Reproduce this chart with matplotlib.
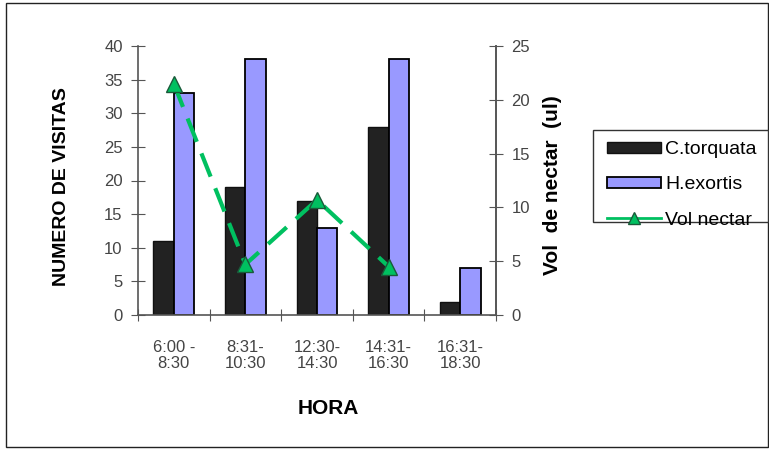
import numpy as np
import matplotlib
matplotlib.use("Agg")
import matplotlib.pyplot as plt
from matplotlib.patches import Rectangle
from matplotlib.lines import Line2D

plt.rcParams['font.family'] = ['Liberation Sans', 'DejaVu Sans']

horas = ["6:00 -\n8:30", "8:31-\n10:30", "12:30-\n14:30", "14:31-\n16:30", "16:31-\n18:30"]
c_torquata = [11, 19, 17, 28, 2]
h_exortis = [33, 38, 13, 38, 7]
vol_nectar = [21.5, 4.7, 10.7, 4.5]

W, H = 769, 450
fig = plt.figure(figsize=(W / 100, H / 100), dpi=100)


def fx(px):
    return px / W


def fy(py):
    return 1 - py / H


# outer frame
fig.patches.append(Rectangle((fx(6), fy(447)), (W - 7) / W, 444 / H,
                             transform=fig.transFigure, fill=False,
                             edgecolor='#222222', linewidth=1.0))

left, right, top, bottom = 138, 496, 46, 315
ax = fig.add_axes([fx(left), fy(bottom), (right - left) / W, (bottom - top) / H])

tick_col = '#555555'
lab_col = '#444444'

x = np.arange(len(horas))
bw = 0.286
ax.bar(x - bw / 2, c_torquata, bw, color='#222222', edgecolor='#111111', linewidth=1.0,
       label='C.torquata', zorder=2)
ax.bar(x + bw / 2, h_exortis, bw, color='#9999FF', edgecolor='black', linewidth=1.3,
       label='H.exortis', zorder=2)

ax.set_xlim(-0.5, len(horas) - 0.5)
ax.set_ylim(0, 40)
ax.set_yticks(range(0, 41, 5))
ax.set_xticks(np.arange(-0.5, len(horas), 1.0))
ax.set_xticklabels([])
ax.set_xticks(x, minor=True)
ax.set_xticklabels(horas, minor=True, fontsize=12, color=lab_col, linespacing=1.1)
ax.tick_params(axis='x', which='minor', length=0, pad=18)
ax.tick_params(axis='x', which='major', direction='inout', length=8, color=tick_col)
ax.tick_params(axis='y', direction='inout', length=10, color=tick_col, labelsize=12,
               labelcolor=lab_col, pad=6)
ax.spines['top'].set_visible(False)
for s in ['left', 'right', 'bottom']:
    ax.spines[s].set_color(tick_col)
    ax.spines[s].set_linewidth(1.2)

ax2 = ax.twinx()
ax2.set_ylim(0, 25)
ax2.set_yticks(range(0, 26, 5))
ax2.plot(x[:len(vol_nectar)], vol_nectar, color='#00C060', linewidth=3,
         linestyle=(0, (6, 3)), marker='^', markersize=12,
         markerfacecolor='#00C060', markeredgecolor='#1a5a3a', markeredgewidth=1.0,
         zorder=3)
ax2.tick_params(axis='y', direction='inout', length=10, color=tick_col, labelsize=12,
                labelcolor=lab_col, pad=6)
for s in ['top', 'left', 'bottom']:
    ax2.spines[s].set_visible(False)
ax2.spines['right'].set_color(tick_col)
ax2.spines['right'].set_linewidth(1.2)

# axis titles
fig.text(fx(62), fy(187), 'NUMERO DE VISITAS', rotation=90, ha='center', va='center',
         fontsize=14, fontweight='bold')
fig.text(fx(552), fy(185), 'Vol  de nectar  (ul)', rotation=90, ha='center', va='center',
         fontsize=15, fontweight='bold')
fig.text(fx(328), fy(408), 'HORA', ha='center', va='center',
         fontsize=15, fontweight='bold')

# legend
fig.patches.append(Rectangle((fx(593), fy(222)), (768 - 593) / W, (222 - 130) / H,
                             transform=fig.transFigure, facecolor='white',
                             edgecolor='#333333', linewidth=1.0, zorder=5))
handles = [
    Rectangle((0, 0), 1, 1, facecolor='#222222', edgecolor='#111111'),
    Rectangle((0, 0), 1, 1, facecolor='#9999FF', edgecolor='black', linewidth=1.3),
    Line2D([0], [0], color='#00C060', linewidth=2, marker='^', markersize=8,
           markerfacecolor='#00C060', markeredgecolor='#1a5a3a'),
]
leg = fig.legend(handles, ['C.torquata', 'H.exortis', 'Vol nectar'],
                 loc='upper left', bbox_to_anchor=(fx(607), fy(141)),
                 frameon=False, fontsize=14, handlelength=2.8,
                 handleheight=0.5, labelspacing=0.94, borderpad=0, handletextpad=0.2,
                 borderaxespad=0)
leg.set_zorder(6)

fig.savefig('out.png', dpi=100)
